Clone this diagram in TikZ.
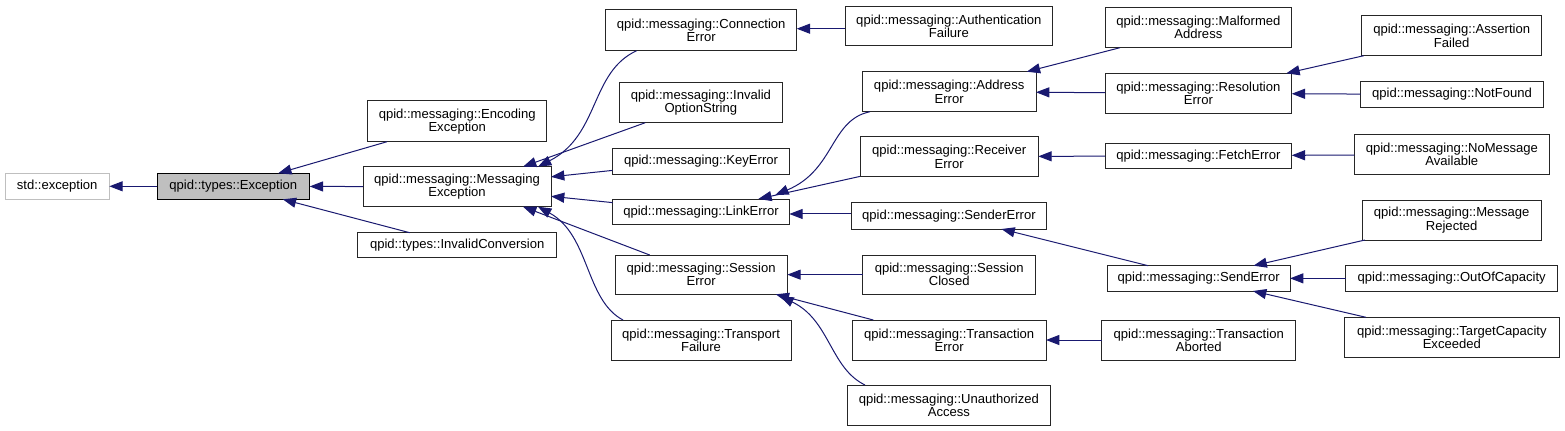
\documentclass[tikz,border=0pt]{standalone}
\usepackage{fontspec}
\setmainfont{Liberation Sans}
\usetikzlibrary{arrows.meta,calc}
\definecolor{edgeblue}{HTML}{191970}
\definecolor{grayfill}{HTML}{BFBFBF}
\tikzset{
  cls/.style={draw=black!85, line width=0.75pt, fill=white, inner sep=0pt, outer sep=0pt,
    align=center, font=\fontsize{9.8}{10}\selectfont},
  extcls/.style={draw=grayfill},
  curcls/.style={fill=grayfill, draw=black},
  inh/.style={draw=edgeblue, line width=0.75pt, -{Triangle[length=10pt,width=7.5pt,fill=edgeblue]}},
}
\newcommand{\mkbox}[7][]{%
  \node[cls,#1,minimum width={(#5-#3)*0.75pt},minimum height={(#6-#4)*0.75pt}]
    (#2) at ({(#3+#5)/2},{(#4+#6)/2}) {#7};}
\begin{document}
\begin{tikzpicture}[x=0.75pt,y=-0.75pt]
\path[fill=white,use as bounding box] (0,0) rectangle (1565,431);
% nodes
\mkbox[extcls]{std}{5}{173.3}{109.3}{199.3}{std::exception}
\mkbox[curcls]{exc}{157}{173.3}{309.7}{199.3}{qpid::types::Exception}
\mkbox{enc}{367.7}{101}{546.7}{141.7}{qpid::messaging::Encoding\\Exception}
\mkbox{msg}{363}{166.7}{551}{206.7}{qpid::messaging::Messaging\\Exception}
\mkbox{inv}{357.7}{232.7}{556.7}{257.7}{qpid::types::InvalidConversion}
\mkbox{conn}{605.7}{10}{796.7}{50.7}{qpid::messaging::Connection\\Error}
\mkbox{auth}{845}{6.7}{1052.7}{46}{qpid::messaging::Authentication\\Failure}
\mkbox{opt}{619}{82.7}{782.7}{122.7}{qpid::messaging::Invalid\\OptionString}
\mkbox{key}{612.7}{148.3}{789.3}{174}{qpid::messaging::KeyError}
\mkbox{link}{612.7}{199}{789.3}{224.3}{qpid::messaging::LinkError}
\mkbox{sess}{615}{255}{787.3}{294.3}{qpid::messaging::Session\\Error}
\mkbox{trans}{611}{320}{791}{360}{qpid::messaging::Transport\\Failure}
\mkbox{addr}{862.3}{71.7}{1036}{111.7}{qpid::messaging::Address\\Error}
\mkbox{recv}{860}{136.7}{1038.3}{176.7}{qpid::messaging::Receiver\\Error}
\mkbox{send}{851}{202.7}{1046.7}{229}{qpid::messaging::SenderError}
\mkbox{sclosed}{862.7}{255}{1035.7}{294.3}{qpid::messaging::Session\\Closed}
\mkbox{txerr}{852.3}{320}{1046}{360}{qpid::messaging::Transaction\\Error}
\mkbox{unauth}{847.7}{385}{1050}{425}{qpid::messaging::Unauthorized\\Access}
\mkbox{malf}{1105}{7.3}{1291.7}{47.7}{qpid::messaging::Malformed\\Address}
\mkbox{resol}{1105}{73.3}{1291.7}{113.3}{qpid::messaging::Resolution\\Error}
\mkbox{fetch}{1105}{143.3}{1291.7}{168.3}{qpid::messaging::FetchError}
\mkbox{senderr}{1107.3}{265.7}{1290}{291}{qpid::messaging::SendError}
\mkbox{txab}{1101.7}{320}{1295.7}{360}{qpid::messaging::Transaction\\Aborted}
\mkbox{assertf}{1361.7}{15.7}{1541.7}{55.7}{qpid::messaging::Assertion\\Failed}
\mkbox{notfound}{1360.7}{81.7}{1543.3}{107.3}{qpid::messaging::NotFound}
\mkbox{nomsg}{1354.3}{134.7}{1549.3}{174.3}{qpid::messaging::NoMessage\\Available}
\mkbox{rej}{1362.3}{200}{1541}{240}{qpid::messaging::Message\\Rejected}
\mkbox{ooc}{1345.7}{265.7}{1557.7}{291}{qpid::messaging::OutOfCapacity}
\mkbox{tce}{1344.3}{317.3}{1559.3}{357.3}{qpid::messaging::TargetCapacity\\Exceeded}
% edges (derived -> base)
\draw[inh] (exc) -- (std);
\draw[inh] (enc) -- (exc);
\draw[inh] (msg) -- (exc);
\draw[inh] (inv) -- (exc);
\draw[inh] ($(conn.south west)+(31,0)$) .. controls (590,72) and (600,135) .. ($(msg.north east)+(-13,0)$);
\draw[inh] (opt) -- ($(msg.north east)+(-28,0)$);
\draw[inh] (key) -- (msg);
\draw[inh] (link) -- (msg);
\draw[inh] (sess) -- ($(msg.south east)+(-28,0)$);
\draw[inh] ($(trans.north west)+(12,0)$) .. controls (585,300) and (590,235) .. ($(msg.south east)+(-13,0)$);
\draw[inh] ([yshift=-1.76pt]auth.west) -- ([yshift=-1.76pt]auth.west -| conn.east);
\draw[inh] ($(addr.south west)+(7.7,0)$) .. controls (830,120) and (835,170) .. ($(link.north east)+(-14,-4)$);
\draw[inh] (recv) -- ($(link.north east)+(-31,0)$);
\draw[inh] ([yshift=1.4pt]send.west) -- ([yshift=1.4pt]send.west -| link.east);
\draw[inh] (sclosed) -- (sess);
\draw[inh] (txerr) -- (sess);
\draw[inh] ($(unauth.north west)+(17.3,0)$) .. controls (830,368) and (830,320) .. ($(sess.south east)+(-7,2)$);
\draw[inh] (malf) -- (addr);
\draw[inh] (resol) -- (addr);
\draw[inh] (fetch) -- (recv);
\draw[inh] (senderr) -- (send);
\draw[inh] (txab) -- (txerr);
\draw[inh] (assertf) -- (resol);
\draw[inh] (notfound) -- (resol);
\draw[inh] (nomsg) -- (fetch);
\draw[inh] (rej) -- (senderr);
\draw[inh] (ooc) -- (senderr);
\draw[inh] (tce) -- (senderr);
\end{tikzpicture}
\end{document}
